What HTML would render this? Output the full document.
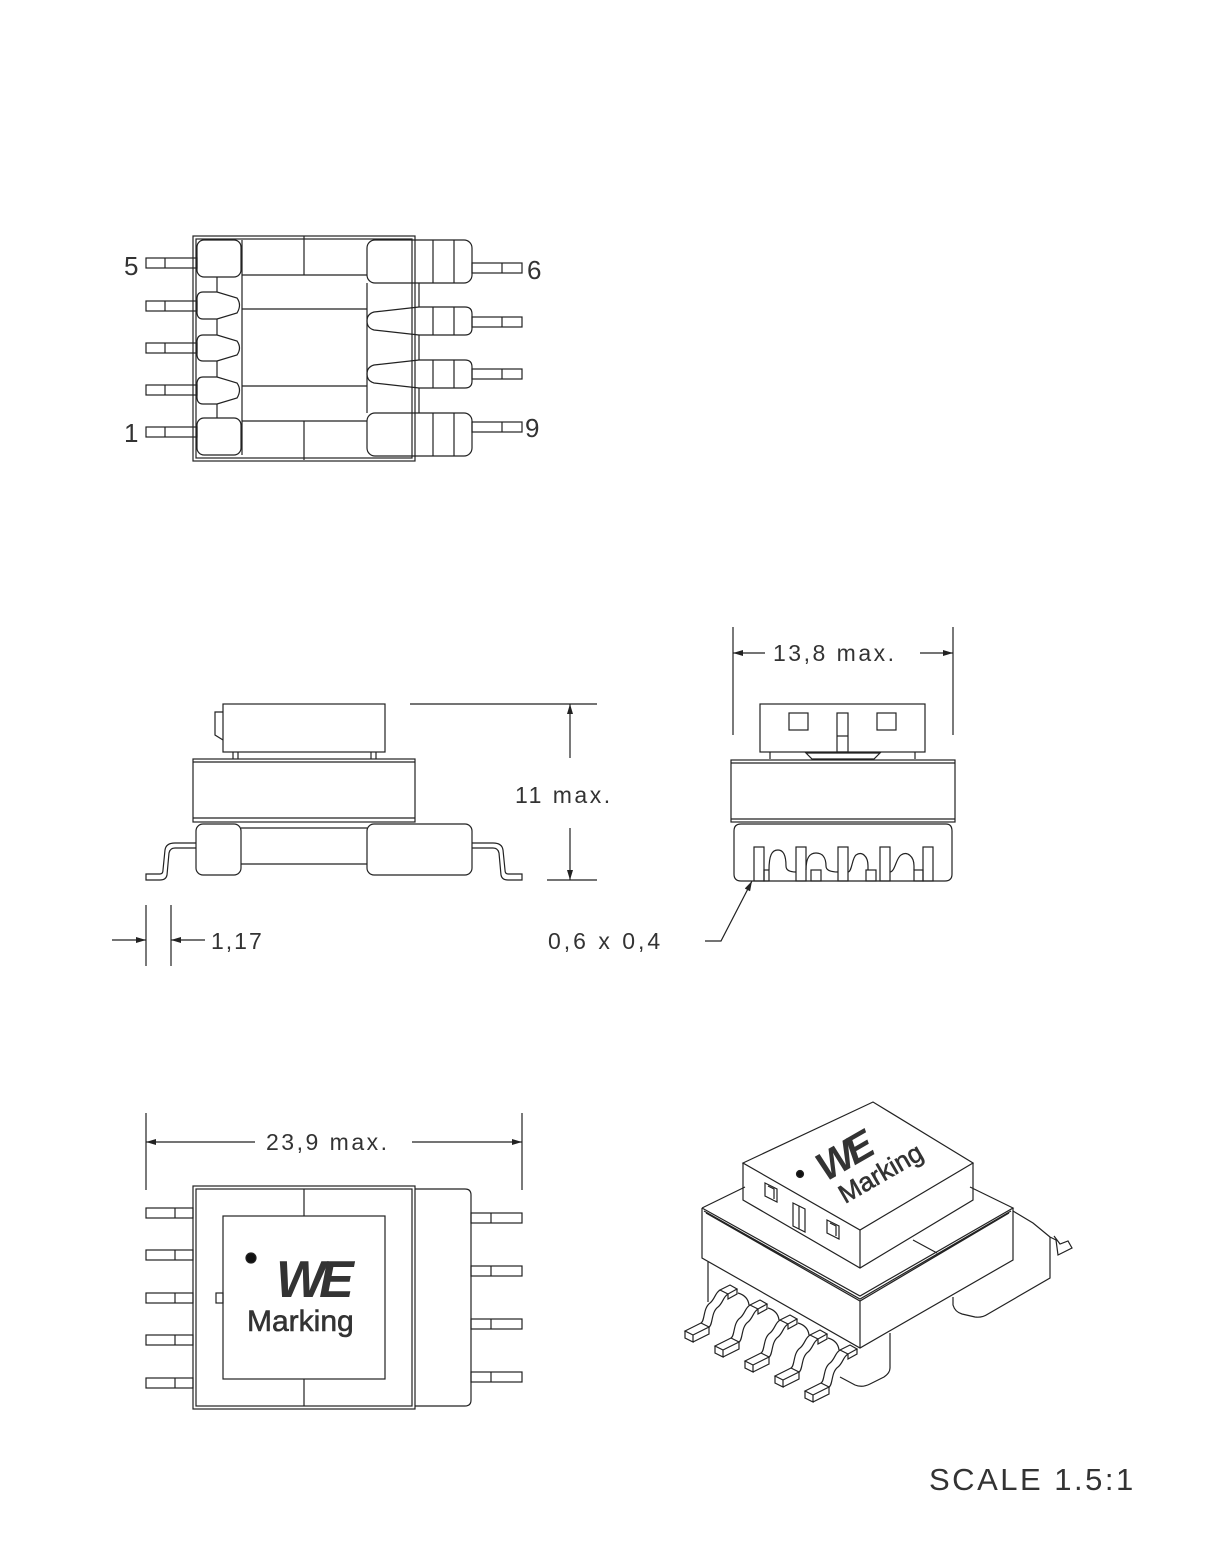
<!DOCTYPE html>
<html><head><meta charset="utf-8"><style>
html,body{margin:0;padding:0;background:#fff}
svg{display:block}
text{font-family:"Liberation Sans",sans-serif;fill:#333}
</style></head><body>
<svg width="1229" height="1558" viewBox="0 0 1229 1558" xmlns="http://www.w3.org/2000/svg" fill="none" stroke="#222" stroke-width="1.2">
<defs>
<marker id="ar" viewBox="0 0 10 6" refX="10" refY="3" markerWidth="14" markerHeight="6" orient="auto" markerUnits="userSpaceOnUse"><path d="M0,0 L10,3 L0,6z" fill="#222" stroke="none"/></marker>
<g id="pin">
<path d="M0,-5 L16,-13 L24,-9 L8,-1 Z M0,-5 L0,2 L8,6 L8,-1 M24,-9 L24,-2 L8,6"/>
<path d="M16,-13 C20,-15 18,-28 25,-33 C30,-37 30,-43 35,-46 M24,-9 C28,-11 26,-24 33,-29 C38,-33 38,-39 43,-42"/>
<path d="M35,-46 L45,-51 L52,-47 L43,-42 Z M43,-42 L43,-37 L52,-42 L52,-47"/>
</g>
</defs>

<!-- ===== TOP VIEW ===== -->
<rect x="193" y="236" width="222" height="225"/>
<rect x="196" y="239" width="216" height="219"/>
<rect x="197" y="240" width="44" height="37" rx="7"/>
<rect x="197" y="418" width="44" height="37" rx="7"/>
<path d="M203,292 L217,292 L237,298 Q242,305 237,313 L217,319 L203,319 Q197,319 197,312 L197,299 Q197,292 203,292Z"/>
<path d="M203,335 L217,335 L237,341 Q242,348 237,355 L217,361 L203,361 Q197,361 197,354 L197,342 Q197,335 203,335Z"/>
<path d="M203,377 L217,377 L237,383 Q242,390 237,398 L217,404 L203,404 Q197,404 197,397 L197,384 Q197,377 203,377Z"/>
<path d="M217,277 V292 M217,319 V335 M217,361 V377 M217,404 V418"/>
<path d="M242,240 V455"/>
<rect x="146" y="258" width="51" height="10"/><path d="M165,258 V268"/>
<rect x="146" y="301" width="51" height="10"/><path d="M165,301 V311"/>
<rect x="146" y="343" width="51" height="10"/><path d="M165,343 V353"/>
<rect x="146" y="385" width="51" height="10"/><path d="M165,385 V395"/>
<rect x="146" y="427" width="51" height="10"/><path d="M165,427 V437"/>
<path d="M242,275 H367 M242,309 H367 M242,386 H367 M242,421 H367 M304,236 V275 M304,421 V460"/>
<rect x="367" y="240" width="105" height="43" rx="8"/>
<rect x="367" y="413" width="105" height="43" rx="8"/>
<path d="M419,307 L465,307 Q472,307 472,314 L472,328 Q472,335 465,335 L419,335 L374,330 Q367,328 367,321 Q367,314 374,312 Z"/>
<path d="M419,360 L465,360 Q472,360 472,367 L472,381 Q472,388 465,388 L419,388 L374,383 Q367,381 367,374 Q367,367 374,365 Z"/>
<path d="M367,283 V413 M419,283 V307 M419,335 V360 M419,388 V413"/>
<path d="M433,240 V283 M454,240 V283 M433,307 V335 M454,307 V335 M433,360 V388 M454,360 V388 M433,413 V456 M454,413 V456"/>
<rect x="472" y="263" width="50" height="10"/><path d="M502,263 V273"/>
<rect x="472" y="317" width="50" height="10"/><path d="M502,317 V327"/>
<rect x="472" y="369" width="50" height="10"/><path d="M502,369 V379"/>
<rect x="472" y="422" width="50" height="10"/><path d="M502,422 V432"/>
<text x="124" y="275" font-size="26" stroke="none">5</text>
<text x="527" y="279" font-size="26" stroke="none">6</text>
<text x="124" y="442" font-size="26" stroke="none">1</text>
<text x="525" y="437" font-size="26" stroke="none">9</text>

<!-- ===== SIDE VIEW ===== -->
<rect x="223" y="704" width="162" height="48"/>
<path d="M223,712 H215 V735 L223,740"/>
<path d="M233,752 V759 M238,752 V759 M371,752 V759 M376,752 V759"/>
<rect x="193" y="759" width="222" height="63"/>
<path d="M193,762 H415 M193,818 H415"/>
<rect x="196" y="824" width="45" height="51" rx="7"/>
<rect x="367" y="824" width="105" height="51" rx="7"/>
<path d="M241,828 H367 M241,864 H367"/>
<path d="M196,848 H175 Q170,848 169,853 L167,875 Q166,880 160,880 H146 V874 H160 Q163,874 163,870 L165,850 Q166,843 175,843 H196"/>
<path d="M472,848 H493 Q498,848 499,853 L501,875 Q502,880 508,880 H522 V874 H508 Q505,874 505,870 L503,850 Q502,843 493,843 H472"/>
<path d="M410,704 H597 M547,880 H597"/>
<path d="M570,758 V704" marker-end="url(#ar)"/>
<path d="M570,828 V880" marker-end="url(#ar)"/>
<text x="515" y="803" font-size="23" stroke="none" letter-spacing="2.5">11  max.</text>

<!-- ===== END VIEW ===== -->
<rect x="760" y="704" width="165" height="48"/>
<rect x="789" y="713" width="19" height="17"/>
<rect x="877" y="713" width="19" height="17"/>
<rect x="837" y="713" width="11" height="39"/><path d="M837,736 H848"/>
<path d="M770,752 V759 M915,752 V759 M806,753 H880 L874,759 H812 Z"/>
<rect x="731" y="760" width="224" height="62"/>
<path d="M731,763 H955 M731,819 H955"/>
<path d="M741,824 H946 Q952,824 952,831 V874 Q952,881 945,881 H741 Q734,881 734,874 V831 Q734,824 741,824Z"/>
<rect x="754" y="847" width="10" height="34"/><rect x="764" y="870" width="5" height="11"/>
<rect x="796" y="847" width="10" height="34"/><rect x="811" y="870" width="10" height="11"/>
<rect x="838" y="847" width="10" height="34"/>
<rect x="866" y="870" width="10" height="11"/>
<rect x="880" y="847" width="10" height="34"/>
<rect x="923" y="847" width="10" height="34"/><rect x="914" y="870" width="9" height="11"/>
<path d="M769,870 C769,855 772,850 778,850 C784,850 786,857 786,866 Q786,872 796,872"/>
<path d="M806,870 C806,857 810,853 816,853 C822,853 826,857 826,866 Q826,872 838,872"/>
<path d="M848,872 C852,872 852,858 856,855 C862,851 868,856 868,866 L868,870"/>
<path d="M890,872 C895,872 896,858 901,855 C907,851 914,856 914,866 L914,870"/>
<path d="M733,627 V735 M953,627 V735"/>
<path d="M765,653 H733" marker-end="url(#ar)"/>
<path d="M920,653 H953" marker-end="url(#ar)"/>
<text x="773" y="661" font-size="23" stroke="none" letter-spacing="2.5">13,8  max.</text>

<!-- 1,17 -->
<path d="M146,905 V966 M171,905 V966"/>
<path d="M112,940 H146" marker-end="url(#ar)"/>
<path d="M205,940 H171" marker-end="url(#ar)"/>
<text x="211" y="949" font-size="23" stroke="none" letter-spacing="2">1,17</text>
<text x="548" y="949" font-size="23" stroke="none" letter-spacing="3">0,6  x  0,4</text>
<path d="M705,941 H721 L752,881" marker-end="url(#ar)"/>

<!-- ===== BOTTOM VIEW ===== -->
<path d="M146,1113 V1190 M522,1113 V1190"/>
<path d="M255,1142 H146" marker-end="url(#ar)"/>
<path d="M412,1142 H522" marker-end="url(#ar)"/>
<text x="266" y="1150" font-size="23" stroke="none" letter-spacing="2.5">23,9  max.</text>
<rect x="193" y="1186" width="222" height="223"/>
<rect x="196" y="1189" width="216" height="217"/>
<rect x="223" y="1216" width="162" height="163"/>
<path d="M304,1189 V1216 M304,1379 V1406"/>
<path d="M415,1189 H465 Q471,1189 471,1195 V1400 Q471,1406 465,1406 H415"/>
<rect x="216" y="1293" width="7" height="10"/>
<rect x="146" y="1208" width="47" height="10"/><path d="M175,1208 V1218"/>
<rect x="146" y="1250" width="47" height="10"/><path d="M175,1250 V1260"/>
<rect x="146" y="1293" width="47" height="10"/><path d="M175,1293 V1303"/>
<rect x="146" y="1335" width="47" height="10"/><path d="M175,1335 V1345"/>
<rect x="146" y="1378" width="47" height="10"/><path d="M175,1378 V1388"/>
<rect x="471" y="1213" width="51" height="10"/><path d="M491,1213 V1223"/>
<rect x="471" y="1266" width="51" height="10"/><path d="M491,1266 V1276"/>
<rect x="471" y="1319" width="51" height="10"/><path d="M491,1319 V1329"/>
<rect x="471" y="1372" width="51" height="10"/><path d="M491,1372 V1382"/>
<circle cx="251" cy="1258" r="5" fill="#111"/>
<text x="276" y="1297" font-size="52" font-weight="bold" font-style="italic" fill="#111" stroke="none" letter-spacing="-6">WE</text>
<text x="247" y="1331" font-size="30" fill="none" stroke="#333" stroke-width="0.6">Marking</text>

<!-- ===== ISOMETRIC ===== -->
<!-- lower body -->
<path d="M708,1262 V1302"/>
<path d="M890,1333 V1368 Q890,1373 884,1377 L870,1384 Q862,1388 855,1385 L840,1377"/>
<path d="M953,1297 V1305 Q955,1312 962,1314 L975,1317 Q982,1318 988,1314 L1050,1278 V1237"/>
<path d="M1013,1211 L1033,1223 L1050,1237"/>
<path d="M1050,1237 L1056,1240 L1058,1255 L1072,1248 L1068,1241 L1060,1244 L1054,1236"/>
<!-- core -->
<path d="M702,1208 L745,1187 M702,1208 L860,1296 L1013,1208 L970,1187"/>
<path d="M704,1211 L860,1299 L1011,1211 M706,1213 L860,1301 L1009,1213"/>
<path d="M702,1208 V1258 L860,1348 L1013,1260 V1208 M860,1301 V1348"/>
<path d="M913,1240 L937,1253"/>
<!-- cap -->
<path d="M743,1163 L873,1102 L973,1163 L860,1230 Z" fill="#fff"/>
<path d="M743,1163 V1200 L860,1268 L973,1200 V1163 M860,1230 V1268"/>
<path d="M765,1183 L777,1189 V1202 L765,1196Z M768,1186 L774,1189 V1199"/>
<path d="M827,1220 L839,1226 V1239 L827,1233Z M830,1223 L836,1226 V1236"/>
<path d="M793,1203 L805,1209 V1232 L799,1229 L793,1226Z M799,1206 V1229"/>
<circle cx="800" cy="1174" r="3.5" fill="#111"/>
<text x="0" y="0" font-size="40" font-weight="bold" font-style="italic" fill="#111" stroke="none" letter-spacing="-5" transform="translate(826,1182) rotate(-30)">WE</text>
<text x="0" y="0" font-size="26" fill="none" stroke="#333" stroke-width="0.6" transform="translate(845,1204) rotate(-30)">Marking</text>
<!-- pins -->
<use href="#pin" x="685" y="1336"/>
<use href="#pin" x="715" y="1351"/>
<use href="#pin" x="745" y="1366"/>
<use href="#pin" x="775" y="1381"/>
<use href="#pin" x="805" y="1396"/>
<path d="M738,1293 Q748,1296 749,1305 M768,1308 Q778,1311 779,1320 M798,1323 Q808,1326 809,1335 M828,1338 Q838,1341 839,1350"/>

<text x="929" y="1490" font-size="31" stroke="none" letter-spacing="2.5">SCALE  1.5:1</text>
</svg>
</body></html>
